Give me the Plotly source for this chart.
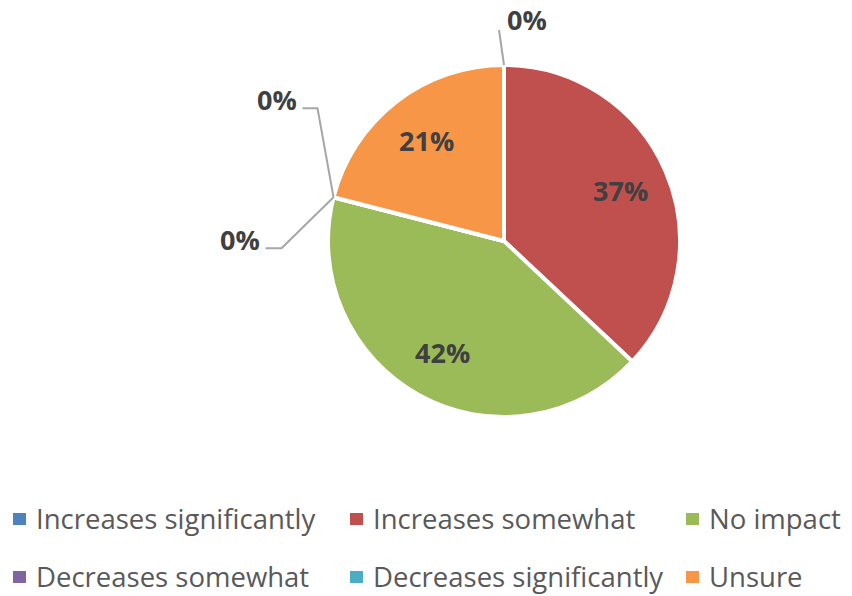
import math
import plotly.graph_objects as go

# Survey responses: share of answers per category (percent)
categories = [
    "Increases significantly",
    "Increases somewhat",
    "No impact",
    "Decreases somewhat",
    "Decreases significantly",
    "Unsure",
]
shares = [0, 37, 42, 0, 0, 21]
colors = ["#4F81BD", "#C0504D", "#9BBB59", "#8064A2", "#4BACC6", "#F79646"]

W, H = 852, 596
CX, CY, R = 504, 241, 176          # pie centre / radius in pixels (top-left origin)
FONT = "Open Sans"
LABEL_COLOR = "#404040"
LEGEND_COLOR = "#595959"


def px(x, y):
    """pixel position -> paper coordinates"""
    return x / W, 1 - y / H


def on_circle(angle_deg, r):
    a = math.radians(angle_deg)
    return CX + r * math.sin(a), CY - r * math.cos(a)


fig = go.Figure(
    go.Pie(
        labels=categories,
        values=shares,
        sort=False,
        direction="clockwise",
        rotation=0,
        marker=dict(colors=colors, line=dict(color="white", width=4)),
        textinfo="none",
        hoverinfo="label+percent",
        showlegend=False,
        domain=dict(x=[(CX - R) / W, (CX + R) / W],
                    y=[1 - (CY + R) / H, 1 - (CY - R) / H]),
    )
)

total = sum(shares)
annotations = []
shapes = []

# leader-line callouts for empty slices: (elbow offset, tail offset, label offset, anchor side)
callouts = {
    "Increases significantly": ((-5, -35), (-5, -35), (1, -45), "left"),
    "Decreases somewhat": ((-52, 51), (-68, 51), (-72, 42), "right"),
    "Decreases significantly": ((-16, -89), (-31, -89), (-35, -98), "right"),
}

cum = 0.0
for name, v in zip(categories, shares):
    start = cum / total * 360
    cum += v
    end = cum / total * 360
    label = f"{v}%"
    if v > 0:
        x, y = on_circle((start + end) / 2, 0.72 * R)
        xp, yp = px(x, y)
        annotations.append(dict(x=xp, y=yp, xref="paper", yref="paper", text=f"<b>{label}</b>",
                                showarrow=False, xanchor="center", yanchor="middle",
                                font=dict(family=FONT, size=27, color=LABEL_COLOR)))
    else:
        ax, ay = on_circle(start, R)
        (ex, ey), (tx, ty), (lx, ly), side = callouts[name]
        path = f"M {ax/W},{1-ay/H} L {(ax+ex)/W},{1-(ay+ey)/H} L {(ax+tx)/W},{1-(ay+ty)/H}"
        shapes.append(dict(type="path", path=path, xref="paper", yref="paper",
                           line=dict(color="#A6A6A6", width=2)))
        xp, yp = px(ax + lx, ay + ly)
        annotations.append(dict(x=xp, y=yp, xref="paper", yref="paper", text=f"<b>{label}</b>",
                                showarrow=False, xanchor=side, yanchor="middle",
                                font=dict(family=FONT, size=27, color=LABEL_COLOR)))

# legend laid out in two rows of three
legend_cols = [13, 350, 686]
legend_rows = [518, 576]
for i, (name, c) in enumerate(zip(categories, colors)):
    x0 = legend_cols[i % 3]
    yc = legend_rows[i // 3]
    shapes.append(dict(type="rect", xref="paper", yref="paper",
                       x0=x0 / W, x1=(x0 + 13) / W,
                       y0=1 - (yc + 7) / H, y1=1 - (yc - 5) / H,
                       fillcolor=c, line=dict(width=0)))
    xp, yp = px(x0 + 22, yc)
    annotations.append(dict(x=xp, y=yp, xref="paper", yref="paper", text=name,
                            showarrow=False, xanchor="left", yanchor="middle", borderpad=0,
                            font=dict(family=FONT, size=27.5, color=LEGEND_COLOR)))

fig.update_layout(
    width=W, height=H,
    margin=dict(l=0, r=0, t=0, b=0),
    paper_bgcolor="white",
    plot_bgcolor="white",
    annotations=annotations,
    shapes=shapes,
)

fig.write_html("out.html")
